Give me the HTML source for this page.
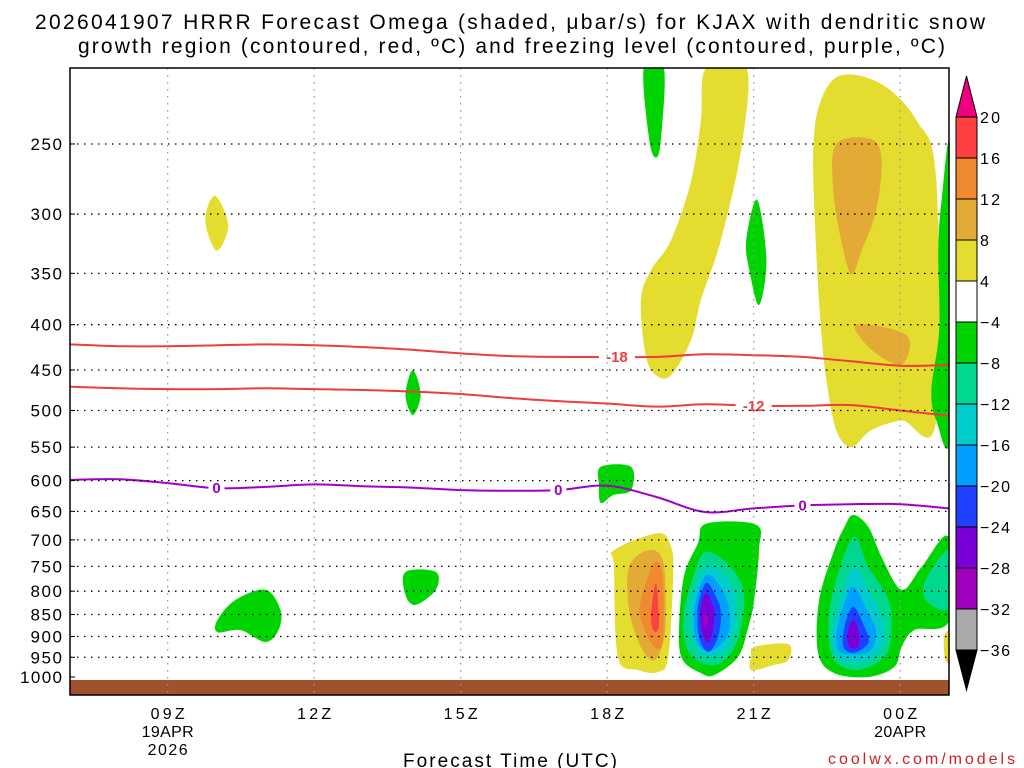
<!DOCTYPE html>
<html><head><meta charset="utf-8"><style>
html,body{margin:0;padding:0;background:#fff;width:1024px;height:768px;overflow:hidden}
svg text{font-family:"Liberation Sans","DejaVu Sans",sans-serif}
</style></head><body>
<svg id="chart" width="1024" height="768" xmlns="http://www.w3.org/2000/svg">
<text x="35" y="29" font-size="21" textLength="950" lengthAdjust="spacing" fill="#000">2026041907 HRRR Forecast Omega (shaded, μbar/s) for KJAX with dendritic snow</text>
<text x="78" y="53" font-size="21" textLength="867" lengthAdjust="spacing" fill="#000">growth region (contoured, red, ºC) and freezing level (contoured, purple, ºC)</text>
<g id="plot"></g>
<text x="403" y="767" font-size="19" textLength="214" lengthAdjust="spacing">Forecast Time (UTC)</text>
<text x="828" y="764" font-size="16" textLength="187" lengthAdjust="spacing" fill="#d02020">coolwx.com/models</text>
</svg>
<script>
const pressureTicks=[250,300,350,400,450,500,550,600,650,700,750,800,850,900,950,1000];
const hourTicks=[9,12,15,18,21,24];
const hourTickLabels=["09Z","12Z","15Z","18Z","21Z","00Z"];
const dateLabels=[[9,"19APR","2026"],[24,"20APR",""]];
const lineHours=[7,8,9,10,11,12,13,14,15,16,17,18,19,20,21,22,23,24,25];
const dgzMinus18=[421,423,423,422,421,422,424,427,431,434,435,435,435,432,433,435,440,445,444];
const dgzMinus12=[470,472,473,473,472,473,474,476,479,484,488,491,495,492,494,494,493,500,507];
const freezing0=[599,598,604,612,610,606,609,611,615,616,615,608,626,651,645,640,638,638,645];
const levels=[20,16,12,8,4,-4,-8,-12,-16,-20,-24,-28,-32,-36];
const levelColors=["#ff4040","#f08a30","#e3ab35","#e5dc30","#ffffff","#00d400","#00d890","#00cccc","#00a0ff","#2040ff","#7a00d8","#a000c0","#aaaaaa"];
const shaded=[
[3,[[20.03,205],[20.85,205],[20.74,254],[20.33,321],[19.92,375],[19.72,416],[19.31,456],[19.0,456],[18.79,433],[18.69,375],[18.9,347],[19.31,321],[19.72,275],[19.92,235]]],
[5,[[18.75,205],[19.16,205],[19.1,247],[19.0,259],[18.86,247]]],
[3,[[22.8,209],[23.62,214],[24.33,235],[24.74,275],[24.74,513],[24.03,513],[23.41,526],[23.0,550],[22.69,526],[22.49,462],[22.38,405],[22.28,330],[22.22,254],[22.38,223]]],
[2,[[22.69,250],[23.41,247],[23.62,261],[23.51,297],[23.21,330],[23.0,351],[22.79,321],[22.63,282]]],
[2,[[23.1,400],[24.13,411],[24.03,444],[23.41,427]]],
[5,[[25.03,254],[25.03,526],[24.74,513],[24.64,474],[24.8,405],[24.78,330],[24.85,289]]],
[5,[[21.07,289],[21.26,338],[21.11,380],[20.91,347],[20.85,321]]],
[3,[[9.97,286],[10.24,309],[10.0,330],[9.77,305]]],
[5,[[14.02,450],[14.18,480],[14.02,506],[13.87,480]]],
[5,[[17.87,579],[18.49,579],[18.49,615],[18.12,623],[17.87,636],[17.83,607]]],
[5,[[10.02,862],[10.38,819],[11.0,797],[11.31,840],[11.27,885],[11.0,913],[10.49,885],[10.02,890]]],
[5,[[13.87,761],[14.49,761],[14.49,797],[14.08,829],[13.87,808]]],
[3,[[18.14,719],[19.04,688],[19.31,713],[19.35,771],[19.25,949],[19.04,987],[18.63,982],[18.22,949],[18.14,751]]],
[2,[[18.45,751],[18.84,719],[19.14,738],[19.2,833],[19.16,908],[18.96,957],[18.69,925],[18.45,840]]],
[1,[[18.69,819],[18.96,743],[19.14,771],[19.14,908],[18.96,925],[18.69,862]]],
[0,[[18.9,847],[19.0,783],[19.06,855],[19.04,885],[18.94,885]]],
[5,[[20.03,671],[21.05,673],[21.11,719],[21.01,819],[20.89,878],[20.68,949],[20.19,995],[19.92,990],[19.55,957],[19.47,892],[19.57,771],[19.86,706]]],
[6,[[19.98,724],[20.33,734],[20.68,771],[20.81,819],[20.68,908],[20.33,964],[19.92,964],[19.62,925],[19.57,847],[19.76,771]]],
[7,[[20.03,751],[20.44,771],[20.64,825],[20.6,892],[20.37,939],[19.92,944],[19.72,892],[19.72,819]]],
[8,[[20.03,767],[20.33,791],[20.5,840],[20.48,892],[20.19,932],[19.92,927],[19.78,885],[19.82,819]]],
[9,[[20.03,783],[20.23,812],[20.33,847],[20.27,901],[20.07,937],[19.88,901],[19.86,833]]],
[10,[[20.03,804],[20.17,833],[20.19,862],[20.13,901],[20.03,913],[19.92,878],[19.92,833]]],
[11,[[20.03,847],[20.07,862],[20.03,878],[19.98,862]]],
[3,[[21.01,925],[21.71,918],[21.71,957],[21.42,969],[20.95,982],[20.95,949]]],
[5,[[23.04,656],[23.35,677],[23.62,732],[24.03,797],[24.44,751],[24.99,695],[25.01,862],[24.29,885],[24.03,925],[23.88,974],[23.35,1000],[22.65,990],[22.32,939],[22.34,819],[22.65,719],[22.86,677]]],
[6,[[23.04,695],[23.35,751],[23.76,819],[23.82,892],[23.68,949],[23.14,982],[22.65,957],[22.53,878],[22.65,791]]],
[6,[[24.5,783],[25.01,719],[25.01,833],[24.58,825]]],
[7,[[23.04,751],[23.35,797],[23.62,855],[23.66,915],[23.35,957],[22.79,957],[22.59,908],[22.73,833]]],
[8,[[23.04,791],[23.35,847],[23.51,892],[23.35,937],[22.79,939],[22.69,901],[22.79,847]]],
[9,[[23.04,833],[23.27,878],[23.35,915],[23.06,939],[22.84,925],[22.86,878]]],
[10,[[23.04,862],[23.16,892],[23.14,925],[22.96,925],[22.92,892]]],
[3,[[24.9,900],[25.03,890],[25.03,960],[24.92,955]]]
];
const L=70,R=949,T=68,B=695,H0=7,H1=25;
const Y1000=677,PXLOG=384.5;
function xOf(h){return L+(h-H0)*(R-L)/(H1-H0);}
function yOf(p){return Y1000-(Math.log(1000)-Math.log(p))*PXLOG;}
const NS="http://www.w3.org/2000/svg";
const svg=document.getElementById('chart');
const g=document.getElementById('plot');
function mk(tag,attrs,parent){const e=document.createElementNS(NS,tag);for(const k in attrs)e.setAttribute(k,attrs[k]);(parent||g).appendChild(e);return e;}
function smooth(pts,closed){
  const n=pts.length;let d="M"+pts[0][0].toFixed(1)+","+pts[0][1].toFixed(1);
  const cnt=closed?n:n-1;
  for(let i=0;i<cnt;i++){
    const p0=pts[(i-1+n)%n],p1=pts[i],p2=pts[(i+1)%n],p3=pts[(i+2)%n];
    const a=closed||i>0?p0:p1,b=closed||i+2<n?p3:p2;
    const c1=[p1[0]+(p2[0]-a[0])/6,p1[1]+(p2[1]-a[1])/6],c2=[p2[0]-(b[0]-p1[0])/6,p2[1]-(b[1]-p1[1])/6];
    d+="C"+c1[0].toFixed(1)+","+c1[1].toFixed(1)+" "+c2[0].toFixed(1)+","+c2[1].toFixed(1)+" "+p2[0].toFixed(1)+","+p2[1].toFixed(1);
  }
  return d+(closed?"Z":"");
}
const clip=mk('clipPath',{id:'pc'});mk('rect',{x:L,y:T,width:R-L,height:B-T},clip);
const sg=mk('g',{'clip-path':'url(#pc)'});


shaded.forEach((s,i)=>{
  const pts=s[1].map(q=>[xOf(q[0]),yOf(q[1])]);
  const e=mk('path',{d:smooth(pts,true),fill:levelColors[s[0]]},sg);
  
  
});
const gr=mk('rect',{x:L,y:yOf(1000)+3,width:R-L,height:B-yOf(1000)-3,fill:'#a0522d'});


pressureTicks.forEach(p=>{
  const y=yOf(p);
  if(p<1000){const l=mk('line',{x1:L,x2:R,y1:y,y2:y,stroke:'#000','stroke-width':1.3,'stroke-dasharray':'1.5 5.5'});
  
  }
  mk('line',{x1:L,x2:L+5,y1:y,y2:y,stroke:'#000'});
  const s=String(p);
  const t=mk('text',{x:L-8,y:y+6,'font-size':17,'text-anchor':'end',textLength:s.length*10.5,lengthAdjust:'spacing'});t.textContent=s;
  
  
});
hourTicks.forEach((h,i)=>{
  const x=xOf(h);
  const l=mk('line',{x1:x,x2:x,y1:T,y2:B,stroke:'#999','stroke-width':1.3,'stroke-dasharray':'1.5 5.5'});
  
  
  const t=mk('text',{x:x,y:719,'font-size':16,'text-anchor':'middle',textLength:34,lengthAdjust:'spacing'});t.textContent=hourTickLabels[i];
  
  
});
dateLabels.forEach(dl=>{
  const x=xOf(dl[0]);
  const t=mk('text',{x:x,y:737,'font-size':16,'text-anchor':'middle',textLength:52,lengthAdjust:'spacing'});t.textContent=dl[1];
  
  
  if(dl[2]){const t2=mk('text',{x:x,y:755,'font-size':16,'text-anchor':'middle',textLength:40,lengthAdjust:'spacing'});t2.textContent=dl[2];
  
  }
});
function contour(vals,color,name,labelHours,label){
  const pts=lineHours.map((h,i)=>[xOf(h),yOf(vals[i])]);
  const e=mk('path',{d:smooth(pts,false),fill:'none',stroke:color,'stroke-width':2},sg);
  
  
  labelHours.forEach(h=>{
    const i=Math.floor(h-H0),f=h-H0-i;const p=vals[i]+(vals[Math.min(i+1,vals.length-1)]-vals[i])*f;
    const x=xOf(h),y=yOf(p);
    mk('rect',{x:x-(label.length*5+3),y:y-7,width:label.length*10+6,height:14,fill:'#fff'},sg);
    const t=mk('text',{x:x,y:y+5,'font-size':15,'font-weight':'bold','text-anchor':'middle',fill:color},sg);t.textContent=label;
    
    
  });
}
contour(dgzMinus18,'#f03c3c','dgz-minus18-line',[18.2],'-18');
contour(dgzMinus12,'#f03c3c','dgz-minus12-line',[21.0],'-12');
contour(freezing0,'#a000c8','freezing-level-line',[10,17,22],'0');
const fr=mk('rect',{x:L,y:T,width:R-L,height:B-T,fill:'none',stroke:'#000','stroke-width':1.5});


const cbX=956,cbW=21,cbTop=117,cbBot=650,nb=levelColors.length,bh=(cbBot-cbTop)/nb;
const cb=mk('g',{},svg);


mk('path',{d:`M${cbX},${cbTop} L${cbX+cbW/2},76 L${cbX+cbW},${cbTop}Z`,fill:'#f0007f',stroke:'#000'},cb);
mk('path',{d:`M${cbX},${cbBot} L${cbX+cbW/2},690 L${cbX+cbW},${cbBot}Z`,fill:'#000',stroke:'#000'},cb);
levelColors.forEach((c,i)=>{
  const r=mk('rect',{x:cbX,y:cbTop+i*bh,width:cbW,height:bh,fill:c,stroke:'#000','stroke-width':1},cb);
  
  
});
levels.forEach((v,i)=>{
  const s=v<0?'\u2212'+(-v):String(v);
  const t=mk('text',{x:cbX+cbW+3,y:cbTop+i*bh+6,'font-size':16,fill:'#000',textLength:s.length*10,lengthAdjust:'spacing'},cb);
  t.textContent=s;
  
  
});
</script>
</body></html>
